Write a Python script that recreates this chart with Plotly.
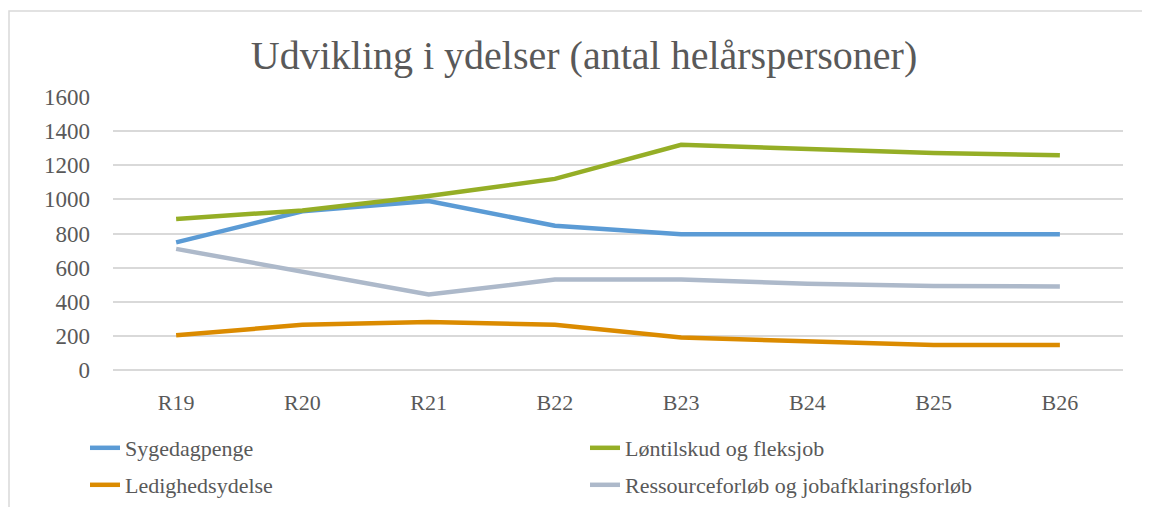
import plotly.graph_objects as go

categories = ["R19", "R20", "R21", "B22", "B23", "B24", "B25", "B26"]
sygedagpenge = [748, 930, 990, 845, 795, 795, 795, 795]
loentilskud = [885, 935, 1020, 1120, 1320, 1295, 1272, 1258]
ledighedsydelse = [203, 265, 282, 265, 190, 165, 146, 146]
ressourceforloeb = [710, 577, 442, 530, 530, 505, 493, 490]
y_ticks = [0, 200, 400, 600, 800, 1000, 1200, 1400, 1600]

series = [
    ("Sygedagpenge", sygedagpenge, "#5B9BD5", "legend"),
    ("Løntilskud og fleksjob", loentilskud, "#95AE26", "legend"),
    ("Ledighedsydelse", ledighedsydelse, "#DB8B00", "legend2"),
    ("Ressourceforløb og jobafklaringsforløb", ressourceforloeb, "#ADB9CA", "legend2"),
]

FONT = "Liberation Serif"
TXT = "#595959"

fig = go.Figure()
for name, vals, color, lg in series:
    fig.add_trace(go.Scatter(
        x=categories, y=vals, name=name, mode="lines",
        line=dict(color=color, width=4.5),
        legend=lg,
    ))

# page body has an 8px margin; figure coordinates = page coordinates - 8
OFF = 8
W, H = 1150 - OFF, 507 - OFF
L, T = 113 - OFF, 97 - OFF
pw, ph = 1010, 273
R = W - L - pw
B = H - T - ph

def px_x(x):
    return (x - OFF - L) / pw

def px_y(y):
    return (T + ph - (y - OFF)) / ph

def cx(x):
    return (x - OFF) / W

def cy(y):
    return 1 - (y - OFF) / H

legend_common = dict(
    orientation="h", xanchor="left", yanchor="bottom",
    xref="container", yref="container",
    font=dict(family=FONT, size=22, color=TXT),
    entrywidth=455, entrywidthmode="pixels",
    bgcolor="rgba(0,0,0,0)", itemwidth=30,
)

fig.update_layout(
    width=W, height=H,
    margin=dict(l=L, r=R, t=T, b=B),
    paper_bgcolor="white", plot_bgcolor="white",
    title=dict(
        text="Udvikling i ydelser (antal helårspersoner)",
        font=dict(family=FONT, size=40, color=TXT),
        x=cx(584), xanchor="center", xref="container",
        y=cy(55), yanchor="middle", yref="container",
    ),
    showlegend=True,
    legend=dict(x=cx(85), y=cy(469), **legend_common),
    legend2=dict(x=cx(85), y=cy(506), **legend_common),
    xaxis=dict(
        type="category", range=[-0.5, 7.5],
        showgrid=False, zeroline=False, showline=False,
        ticks="", ticklabelstandoff=17,
        tickfont=dict(family=FONT, size=22, color=TXT),
    ),
    yaxis=dict(
        range=[0, 1600], tickvals=y_ticks,
        showgrid=True, gridcolor="#D9D9D9", gridwidth=1.5,
        zeroline=True, zerolinecolor="#D9D9D9", zerolinewidth=1.5,
        showline=False, ticks="", ticklabelstandoff=22,
        tickfont=dict(family=FONT, size=23, color=TXT),
    ),
    shapes=[dict(
        type="rect", xref="paper", yref="paper", layer="below",
        x0=px_x(OFF + 1), x1=px_x(1170), y0=px_y(530), y1=px_y(11),
        line=dict(color="#D9D9D9", width=1.5), fillcolor="rgba(0,0,0,0)",
    )],
)

fig.write_html("out.html")
